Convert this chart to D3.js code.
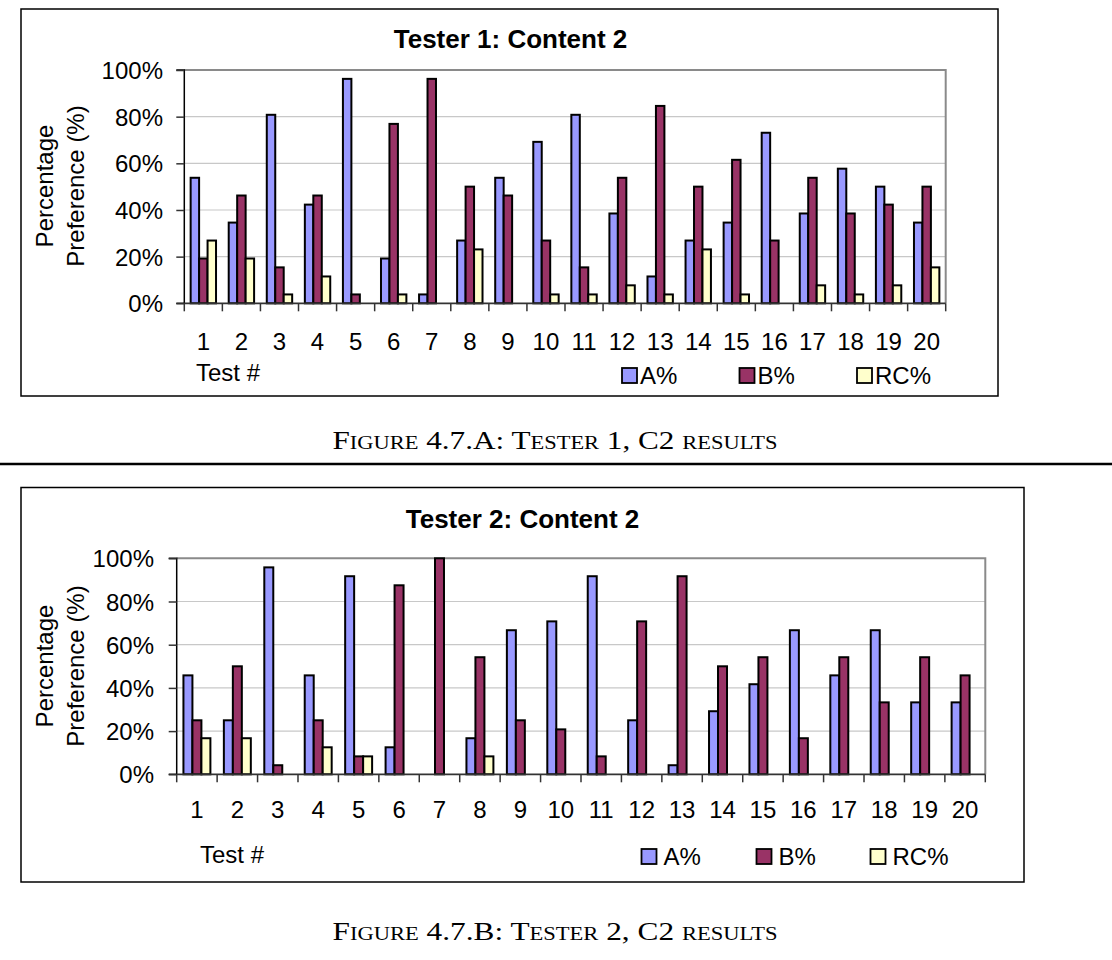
<!DOCTYPE html>
<html>
<head>
<meta charset="utf-8">
<script src="https://cdn.jsdelivr.net/npm/d3@7"></script>
<style>
  html, body { margin: 0; padding: 0; background: #fff; }
  svg { display: block; }
  text { font-family: "Liberation Sans", Arial, sans-serif; }
</style>
</head>
<body>
<svg id="chart" width="1112" height="960"></svg>
<script>
// ---------- DATA ----------
const tests = ["1","2","3","4","5","6","7","8","9","10","11","12","13","14","15","16","17","18","19","20"];
const seriesNames = ["A%", "B%", "RC%"];
const yTicks = [0, 20, 40, 60, 80, 100];

const tester1A  = [53.8,34.6,80.8,42.3,96.2,19.2,3.8,26.9,53.8,69.2,80.8,38.5,11.5,26.9,34.6,73.1,38.5,57.7,50.0,34.6];
const tester1B  = [19.2,46.2,15.4,46.2,3.8,76.9,96.2,50.0,46.2,26.9,15.4,53.8,84.6,50.0,61.5,26.9,53.8,38.5,42.3,50.0];
const tester1RC = [26.9,19.2,3.8,11.5,0,3.8,0,23.1,0,3.8,3.8,7.7,3.8,23.1,3.8,0,7.7,3.8,7.7,15.4];

const tester2A  = [45.8,25.0,95.8,45.8,91.7,12.5,0,16.7,66.7,70.8,91.7,25.0,4.2,29.2,41.7,66.7,45.8,66.7,33.3,33.3];
const tester2B  = [25.0,50.0,4.2,25.0,8.3,87.5,100,54.2,25.0,20.8,8.3,70.8,91.7,50.0,54.2,16.7,54.2,33.3,54.2,45.8];
const tester2RC = [16.7,16.7,0,12.5,8.3,0,0,8.3,0,0,0,0,0,0,0,0,0,0,0,0];

const title1 = "Tester 1: Content 2";
const title2 = "Tester 2: Content 2";
const caption1 = "Figure 4.7.A: Tester 1, C2 results";
const caption2 = "Figure 4.7.B: Tester 2, C2 results";
const yTitleLines = ["Percentage", "Preference (%)"];
const xTitle = "Test #";

const colors = ["#9999FF", "#993366", "#FFFFCC"];

// ---------- DRAW ----------
const svg = d3.select("#chart");

function drawChart(cfg) {
  const g = svg.append("g");
  // outer frame
  g.append("rect")
    .attr("x", cfg.box[0]).attr("y", cfg.box[1])
    .attr("width", cfg.box[2] - cfg.box[0]).attr("height", cfg.box[3] - cfg.box[1])
    .attr("fill", "#fff").attr("stroke", "#000").attr("stroke-width", 1.5);

  const x = d3.scaleBand().domain(tests).range([cfg.plot[0], cfg.plot[2]]);
  const y = d3.scaleLinear().domain([0, 100]).range([cfg.plot[3], cfg.plot[1]]);
  const xs = d3.scaleBand().domain(seriesNames).range([0, x.bandwidth()]).paddingInner(0).paddingOuter(0.75);

  // gridlines
  g.append("g").selectAll("line").data(yTicks.filter(t => t > 0 && t < 100)).join("line")
    .attr("x1", cfg.plot[0]).attr("x2", cfg.plot[2])
    .attr("y1", d => y(d)).attr("y2", d => y(d))
    .attr("stroke", "#c8c8c8").attr("stroke-width", 1.2);

  // plot border top/right (gray)
  g.append("path")
    .attr("d", `M${cfg.plot[0]},${y(100)}H${cfg.plot[2]}V${y(0)}`)
    .attr("fill", "none").attr("stroke", "#8a8a8a").attr("stroke-width", 2);

  // bars
  const series = cfg.series;
  series.forEach((vals, si) => {
    g.append("g").selectAll("rect").data(vals.map((v, i) => ({ v, t: tests[i] })).filter(d => d.v > 0)).join("rect")
      .attr("x", d => x(d.t) + xs(seriesNames[si]))
      .attr("y", d => y(d.v))
      .attr("width", xs.bandwidth())
      .attr("height", d => y(0) - y(d.v))
      .attr("fill", colors[si])
      .attr("stroke", "#000").attr("stroke-width", 2);
  });

  // y axis
  const yAxis = d3.axisLeft(y).tickValues(yTicks).tickSize(8).tickFormat(d => d + "%");
  const ya = g.append("g").attr("transform", `translate(${cfg.plot[0]},0)`).call(yAxis);
  ya.select(".domain").attr("stroke", "#000").attr("stroke-width", 1.5).attr("d", `M-8,${y(100)}H0V${y(0)}H-8`);
  ya.selectAll(".tick line").attr("stroke", "#333").attr("stroke-width", 1.5);
  ya.selectAll(".tick text")
    .attr("x", cfg.yLabelRight - cfg.plot[0])
    .attr("dy", "0.36em")
    .attr("font-size", 24).attr("fill", "#000")
    .style("font-family", "'Liberation Sans', Arial, sans-serif");

  // x axis baseline
  g.append("line")
    .attr("x1", cfg.plot[0]).attr("x2", cfg.plot[2])
    .attr("y1", y(0)).attr("y2", y(0))
    .attr("stroke", "#333").attr("stroke-width", 1.8);
  // x ticks at category boundaries
  const bounds = tests.map(t => x(t)).concat([cfg.plot[2]]);
  g.append("g").selectAll("line").data(bounds).join("line")
    .attr("x1", d => d).attr("x2", d => d)
    .attr("y1", y(0)).attr("y2", y(0) + 8)
    .attr("stroke", "#333").attr("stroke-width", 1.5);
  // x labels
  g.append("g").selectAll("text").data(tests).join("text")
    .attr("x", d => x(d) + x.bandwidth() / 2)
    .attr("y", cfg.xLabelBaseline)
    .attr("text-anchor", "middle")
    .attr("font-size", 24)
    .text(d => d);

  // x title
  g.append("text").attr("x", cfg.xTitlePos[0]).attr("y", cfg.xTitlePos[1])
    .attr("font-size", 24).text(xTitle);

  // y title (two rotated lines)
  yTitleLines.forEach((line, i) => {
    g.append("text")
      .attr("transform", `translate(${cfg.yTitleX[i]},${cfg.yTitleCY}) rotate(-90)`)
      .attr("text-anchor", "middle")
      .attr("dominant-baseline", "central")
      .attr("font-size", 24)
      .text(line);
  });

  // chart title
  g.append("text").attr("x", cfg.titlePos[0]).attr("y", cfg.titlePos[1])
    .attr("text-anchor", "middle").attr("font-size", 26).attr("font-weight", "bold")
    .text(cfg.title);

  // legend
  seriesNames.forEach((name, i) => {
    const lx = cfg.legendX[i];
    g.append("rect").attr("x", lx).attr("y", cfg.legendY - 16)
      .attr("width", 15).attr("height", 15)
      .attr("fill", colors[i]).attr("stroke", "#000").attr("stroke-width", 1.8);
    g.append("text").attr("x", lx + cfg.legendGap).attr("y", cfg.legendY)
      .attr("font-size", 24).text(name);
  });

  // caption
  g.append("text").attr("x", 555).attr("y", cfg.captionY)
    .attr("text-anchor", "middle")
    .attr("font-size", 25)
    .attr("textLength", 445).attr("lengthAdjust", "spacingAndGlyphs")
    .style("font-family", "'Liberation Serif', 'Times New Roman', serif")
    .style("font-variant", "small-caps")
    .text(cfg.caption);
}

drawChart({
  box: [21, 9, 998, 396],
  plot: [184.3, 70, 945.7, 303.3],
  yLabelRight: 163,
  xLabelBaseline: 350,
  xTitlePos: [196, 381],
  yTitleX: [44, 75],
  yTitleCY: 186,
  titlePos: [510.5, 48],
  legendX: [622, 739.5, 857],
  legendY: 384,
  legendGap: 18,
  title: title1,
  caption: caption1,
  captionY: 449,
  series: [tester1A, tester1B, tester1RC]
});

// separator line
svg.append("line").attr("x1", 0).attr("x2", 1112).attr("y1", 464).attr("y2", 464)
  .attr("stroke", "#000").attr("stroke-width", 2.5);

drawChart({
  box: [21, 487.5, 1024, 882],
  plot: [176.7, 558.3, 985.3, 774.3],
  yLabelRight: 154,
  xLabelBaseline: 818,
  xTitlePos: [200, 863],
  yTitleX: [44, 75],
  yTitleCY: 666,
  titlePos: [522.5, 528],
  legendX: [641.5, 756.5, 870.5],
  legendY: 865,
  legendGap: 22,
  title: title2,
  caption: caption2,
  captionY: 940,
  series: [tester2A, tester2B, tester2RC]
});
</script>
</body>
</html>
